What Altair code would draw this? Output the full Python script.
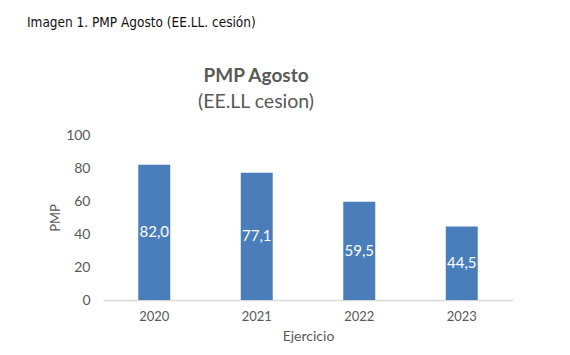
import altair as alt
import pandas as pd

years = ["2020", "2021", "2022", "2023"]
pmp = [82.0, 77.1, 59.5, 44.5]
y_ticks = [0, 20, 40, 60, 80, 100]

df = pd.DataFrame({
    "Ejercicio": years,
    "PMP": pmp,
    "label": [f"{v:.1f}".replace(".", ",") for v in pmp],
})

FONT = "Lato"
GRAY = "#595959"

x_axis = alt.Axis(title="Ejercicio", labelAngle=0, ticks=False,
                  domainColor="#d9d9d9", domainWidth=1.5,
                  labelFont=FONT, labelFontSize=13, labelColor=GRAY,
                  labelPadding=10, titleFont=FONT, titleFontSize=14,
                  titleFontWeight="normal", titleColor=GRAY, titlePadding=6)
y_axis = alt.Axis(title="PMP", values=y_ticks, grid=False, domain=False,
                  ticks=False, labelOverlap=False, labelFont=FONT,
                  labelFontSize=14, labelColor=GRAY, labelPadding=13,
                  titleFont=FONT, titleFontSize=13, titleFontWeight="normal",
                  titleColor=GRAY, titlePadding=3)
x_scale = alt.Scale(paddingInner=0.688, paddingOuter=0.344)
y_scale = alt.Scale(domain=[0, 100], nice=False)

base = alt.Chart(df)

bars = base.mark_bar(color="#4a7ebb").encode(
    x=alt.X("Ejercicio:N", sort=years, scale=x_scale, axis=x_axis),
    y=alt.Y("PMP:Q", scale=y_scale, axis=y_axis),
)

labels = base.transform_calculate(mid="datum.PMP / 2").mark_text(
    color="white", font=FONT, fontSize=15, baseline="middle"
).encode(
    x=alt.X("Ejercicio:N", sort=years, scale=x_scale, axis=x_axis),
    y=alt.Y("mid:Q", scale=y_scale, axis=y_axis),
    text="label:N",
)

texts = pd.DataFrame({"t": ["Imagen 1. PMP Agosto (EE.LL. cesión)"]})
header = alt.Chart(texts).mark_text(
    font="DejaVu Sans Condensed, Liberation Sans", fontSize=13.5, color="#111111",
    align="left", baseline="alphabetic"
).encode(x=alt.value(-76), y=alt.value(-108), text="t:N")

title_df = pd.DataFrame({"t": ["PMP Agosto"]})
subtitle_df = pd.DataFrame({"t": ["(EE.LL cesion)"]})
title = alt.Chart(title_df).mark_text(
    font=FONT, fontSize=19, fontWeight="bold", color=GRAY,
    align="center", baseline="alphabetic"
).encode(x=alt.value(153), y=alt.value(-53), text="t:N")
subtitle = alt.Chart(subtitle_df).mark_text(
    font=FONT, fontSize=19.5, color=GRAY,
    align="center", baseline="alphabetic"
).encode(x=alt.value(153), y=alt.value(-27), text="t:N")

chart = alt.layer(bars, labels, header, title, subtitle).properties(
    width=410, height=165,
    autosize=alt.AutoSizeParams(type="none"),
    padding={"left": 103, "top": 135, "right": 57, "bottom": 55},
    background="white",
).configure_view(stroke=None)

chart.save("out.html", embed_options={"renderer": "svg", "actions": False})
